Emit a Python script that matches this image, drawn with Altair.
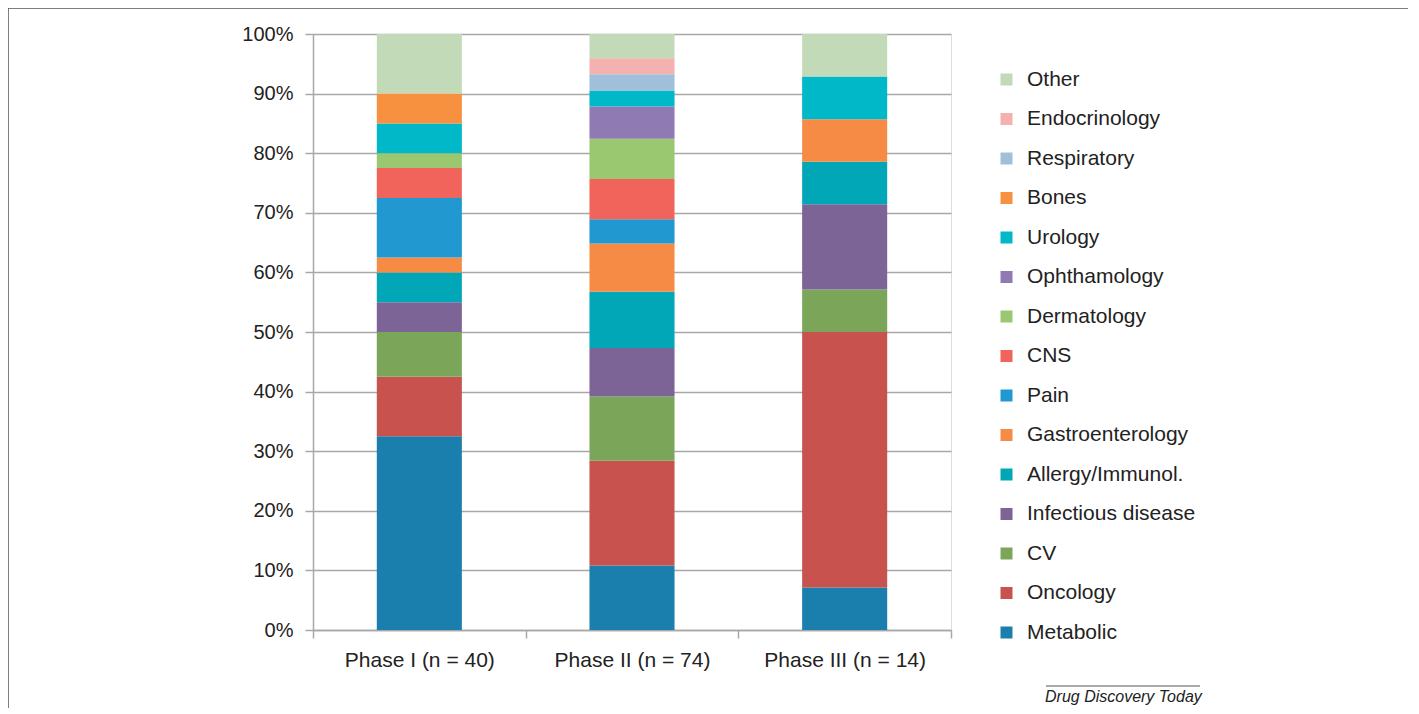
import altair as alt
import pandas as pd

phases = ["Phase I (n = 40)", "Phase II (n = 74)", "Phase III (n = 14)"]
categories = ["Metabolic", "Oncology", "CV", "Infectious disease", "Allergy/Immunol.",
              "Gastroenterology", "Pain", "CNS", "Dermatology", "Ophthamology",
              "Urology", "Bones", "Respiratory", "Endocrinology", "Other"]
colors = ["#1b7fad", "#c8524e", "#7ba65a", "#7c6497", "#02a7b7",
          "#f58b45", "#2198cf", "#f1645b", "#99c870", "#8f7ab4",
          "#00b8c8", "#f7913f", "#a0c0da", "#f3b1af", "#c3dab8"]
# number of compounds per category in each phase
phase1 = [13, 4, 3, 2, 2, 1, 4, 2, 1, 0, 2, 2, 0, 0, 4]
phase2 = [8, 13, 8, 6, 7, 6, 3, 5, 5, 4, 2, 0, 2, 2, 3]
phase3 = [1, 6, 1, 2, 1, 1, 0, 0, 0, 0, 1, 0, 0, 0, 1]
y_ticks = [0, 0.1, 0.2, 0.3, 0.4, 0.5, 0.6, 0.7, 0.8, 0.9, 1.0]
credit = "Drug Discovery Today"

rows = []
for ph, vals in zip(phases, [phase1, phase2, phase3]):
    for i, (c, v) in enumerate(zip(categories, vals)):
        rows.append({"phase": ph, "category": c, "idx": i, "count": v})
df = pd.DataFrame(rows)

FONT = "Liberation Sans"

bars = alt.Chart(df).mark_bar(width={"band": 0.4}).encode(
    x=alt.X("phase:N", sort=phases, title=None,
            scale=alt.Scale(paddingInner=0, paddingOuter=0),
            axis=alt.Axis(labelAngle=0, labelFontSize=21, labelColor="#222222",
                          labelFont=FONT, tickBand="extent", tickSize=8,
                          tickColor="#a8a8a8", tickWidth=1.5, domainColor="#a8a8a8",
                          domainWidth=1.5, labelPadding=11, grid=False)),
    y=alt.Y("count:Q", stack="normalize", title=None,
            scale=alt.Scale(domain=[0, 1]),
            axis=alt.Axis(values=y_ticks, format=".0%", labelFontSize=20,
                          labelColor="#222222", labelFont=FONT, tickSize=8,
                          tickColor="#a8a8a8", tickWidth=1.5, domainColor="#a8a8a8",
                          domainWidth=1.5, labelPadding=12, gridColor="#a8a8a8",
                          gridWidth=1.5)),
    color=alt.Color("category:N",
                    scale=alt.Scale(domain=categories[::-1], range=colors[::-1]),
                    legend=alt.Legend(title=None, orient="none", legendX=683, legendY=35,
                                      symbolType="square", symbolSize=144,
                                      symbolStrokeWidth=0, labelFontSize=21,
                                      labelFont=FONT, labelColor="#222222",
                                      labelOffset=10, rowPadding=17.5,
                                      labelLimit=300)),
    order=alt.Order("idx:Q", sort="ascending"),
)

one = alt.Data(values=[{}])
frame_top = alt.Chart(one).mark_rule(color="#555555", strokeWidth=1.5).encode(
    x=alt.value(-305), x2=alt.value(1100), y=alt.value(-26))
frame_left = alt.Chart(one).mark_rule(color="#555555", strokeWidth=1.5).encode(
    x=alt.value(-305), y=alt.value(-26), y2=alt.value(700))
credit_rule = alt.Chart(one).mark_rule(color="#555555", strokeWidth=1).encode(
    x=alt.value(733), x2=alt.value(887), y=alt.value(652))
credit_text = alt.Chart(one).mark_text(
    text=credit, font=FONT, fontSize=16, fontStyle="italic", color="#222222",
    align="left", baseline="alphabetic").encode(x=alt.value(732), y=alt.value(668))

chart = alt.layer(bars, frame_top, frame_left, credit_rule, credit_text).properties(
    width=638, height=596,
    autosize=alt.AutoSizeParams(type="none"),
    padding={"left": 305, "top": 26, "right": 457, "bottom": 78},
).configure_view(stroke=None).configure(background="white")

chart.save("out.html", embed_options={"renderer": "svg", "actions": False})
